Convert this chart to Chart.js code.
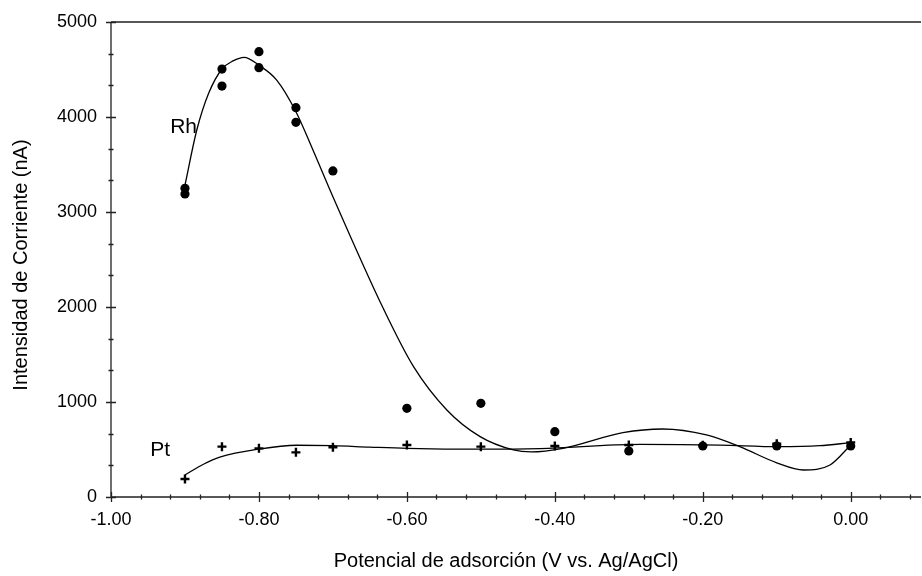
<!DOCTYPE html>
<html>
<head>
<meta charset="utf-8">
<script src="https://cdn.jsdelivr.net/npm/chart.js@4/dist/chart.umd.min.js"></script>
<style>
	html, body { margin: 0; padding: 0; background: #fff; }
	#wrap { width: 922px; height: 576px; }
</style>
</head>
<body>
<div id="wrap"><canvas id="adsChart" width="922" height="576"></canvas></div>
<script>
// measured points
const rhX = [-0.90, -0.90, -0.85, -0.85, -0.80, -0.80, -0.75, -0.75, -0.70, -0.60, -0.50, -0.40, -0.30, -0.20, -0.10, 0.00];
const rhY = [3250, 3190, 4505, 4326, 4688, 4519, 4098, 3944, 3432, 933, 986, 688, 484, 537, 537, 537];
const ptX = [-0.90, -0.85, -0.80, -0.75, -0.70, -0.60, -0.50, -0.40, -0.30, -0.20, -0.10, 0.00];
const ptY = [189, 530, 512, 470, 523, 547, 530, 537, 547, 545, 560, 575];

// fitted curves
const rhFitX = [-0.900, -0.884, -0.868, -0.850, -0.835, -0.820, -0.800, -0.776, -0.750, -0.727, -0.700, -0.632, -0.591, -0.546, -0.501, -0.456, -0.432, -0.389, -0.308, -0.254, -0.195, -0.150, -0.100, -0.064, -0.028, 0.000];
const rhFitY = [3284, 3863, 4249, 4505, 4590, 4628, 4545, 4389, 4056, 3653, 3161, 1986, 1372, 916, 635, 495, 474, 512, 677, 716, 653, 530, 360, 284, 337, 547];
const ptFitX = [-0.900, -0.875, -0.853, -0.800, -0.749, -0.700, -0.650, -0.600, -0.500, -0.420, -0.285, -0.177, -0.098, -0.042, 0.000];
const ptFitY = [232, 345, 420, 505, 545, 540, 525, 512, 503, 510, 554, 547, 530, 540, 572];

const xTicks = [-1.00, -0.80, -0.60, -0.40, -0.20, 0.00];
const yTicks = [0, 1000, 2000, 3000, 4000, 5000];

const seriesNames = ['Rh', 'Pt'];
const nameX = [-0.920, -0.947];
const nameY = [3895, 495];

const xTitle = 'Potencial de adsorción (V vs. Ag/AgCl)';
const yTitle = 'Intensidad de Corriente (nA)';

const FONT = '"Liberation Sans", Arial, sans-serif';

function pts(xs, ys) {
	return xs.map(function (x, i) { return { x: x, y: ys[i] }; });
}

// axes frame, crossing ticks, series names and axis titles
const framePlugin = {
	id: 'frame',
	afterDraw: function (chart) {
		const ctx = chart.ctx;
		const a = chart.chartArea;
		const sx = chart.scales.x;
		const sy = chart.scales.y;
		ctx.save();
		ctx.strokeStyle = '#222';
		ctx.lineWidth = 1.3;
		ctx.beginPath();
		ctx.moveTo(a.left, a.top);
		ctx.lineTo(a.left, a.bottom);
		ctx.lineTo(a.right, a.bottom);
		ctx.moveTo(a.left, a.top);
		ctx.lineTo(a.right, a.top);
		ctx.stroke();

		ctx.beginPath();
		for (let v = -1; v <= sx.max + 1e-9; v += 0.04) {
			const px = Math.round(sx.getPixelForValue(v)) + 0.5;
			const major = Math.abs(v * 5 - Math.round(v * 5)) < 1e-6;
			const len = major ? 5 : 2.5;
			ctx.moveTo(px, a.bottom - len);
			ctx.lineTo(px, a.bottom + len);
		}
		for (let k = 0; k <= 15; k++) {
			const v = k * 1000 / 3;
			const py = Math.round(sy.getPixelForValue(v)) + 0.5;
			const len = k % 3 === 0 ? 5 : 2.5;
			ctx.moveTo(a.left - len, py);
			ctx.lineTo(a.left + len, py);
		}
		ctx.stroke();

		ctx.fillStyle = '#000';
		ctx.textBaseline = 'middle';
		ctx.textAlign = 'left';
		ctx.font = '21px ' + FONT;
		seriesNames.forEach(function (name, i) {
			ctx.fillText(name, sx.getPixelForValue(nameX[i]), sy.getPixelForValue(nameY[i]));
		});

		ctx.font = '20px ' + FONT;
		ctx.textAlign = 'center';
		ctx.fillText(xTitle, 506, 561);
		ctx.translate(21, 265);
		ctx.rotate(-Math.PI / 2);
		ctx.fillText(yTitle, 0, 0);
		ctx.restore();
	}
};

function noPad(s) {
	s.paddingTop = 0;
	s.paddingBottom = 0;
	s.paddingLeft = 0;
	s.paddingRight = 0;
}

const ctx = document.getElementById('adsChart').getContext('2d');
const adsChart = new Chart(ctx, {
	type: 'scatter',
	data: {
		datasets: [{
			label: 'Rh ajuste',
			data: pts(rhFitX, rhFitY),
			showLine: true,
			cubicInterpolationMode: 'monotone',
			borderColor: '#000',
			borderWidth: 1.3,
			pointRadius: 0
		}, {
			label: 'Pt ajuste',
			data: pts(ptFitX, ptFitY),
			showLine: true,
			cubicInterpolationMode: 'monotone',
			borderColor: '#000',
			borderWidth: 1.3,
			pointRadius: 0
		}, {
			label: 'Rh',
			data: pts(rhX, rhY),
			pointStyle: 'circle',
			pointRadius: 4.6,
			backgroundColor: '#000',
			borderColor: '#000',
			borderWidth: 0
		}, {
			label: 'Pt',
			data: pts(ptX, ptY),
			pointStyle: 'cross',
			pointRadius: 4.5,
			borderColor: '#000',
			borderWidth: 2.4
		}]
	},
	options: {
		responsive: false,
		animation: false,
		events: [],
		layout: {
			autoPadding: false,
			padding: { left: 0, top: 22, right: 1, bottom: 0 }
		},
		plugins: {
			legend: { display: false },
			tooltip: { enabled: false }
		},
		scales: {
			x: {
				type: 'linear',
				min: -1,
				max: 0.095,
				grid: { display: false, drawTicks: false },
				border: { display: false },
				afterBuildTicks: function (s) {
					s.ticks = xTicks.map(function (v) { return { value: v }; });
				},
				afterFit: function (s) { s.height = 79; noPad(s); },
				ticks: {
					color: '#000',
					padding: 12,
					maxRotation: 0,
					font: { size: 18, family: FONT },
					callback: function (v) { return v.toFixed(2); }
				}
			},
			y: {
				type: 'linear',
				min: 0,
				max: 5000,
				grid: { display: false, drawTicks: false },
				border: { display: false },
				afterBuildTicks: function (s) {
					s.ticks = yTicks.map(function (v) { return { value: v }; });
				},
				afterFit: function (s) { s.width = 111; noPad(s); },
				ticks: {
					color: '#000',
					padding: 14,
					font: { size: 18, family: FONT },
					callback: function (v) { return String(v); }
				}
			}
		}
	},
	plugins: [framePlugin]
});
</script>
</body>
</html>
